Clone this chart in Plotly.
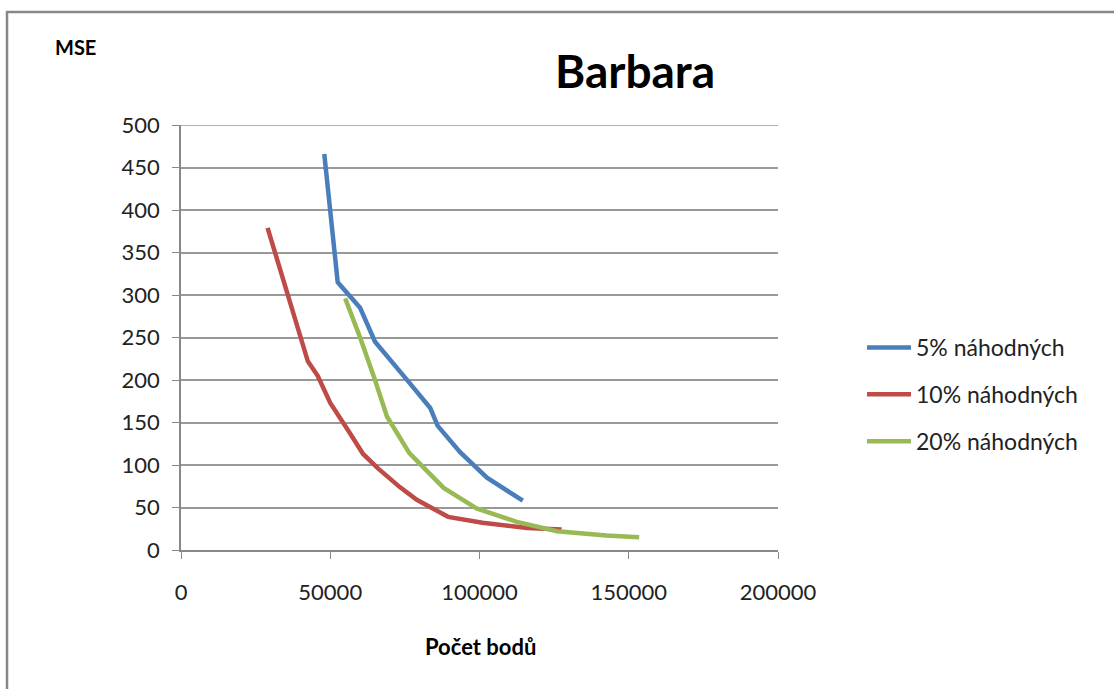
import plotly.graph_objects as go

# Data
x_5 = [48000, 52500, 60000, 65000, 75500, 83500, 86000, 93500, 102500, 114500]
y_5 = [466, 315, 285, 245, 201, 167, 146, 115, 85, 58]

x_10 = [29000, 42500, 45800, 50000, 56500, 61000, 66000, 73300, 79000, 89500, 101000, 116000, 127500]
y_10 = [379, 222, 205, 173, 138, 113, 96, 74, 59, 39, 32, 26, 24]

x_20 = [55000, 60000, 65000, 69000, 76500, 82000, 88000, 99000, 112500, 126000, 142500, 153500]
y_20 = [296, 250, 200, 157, 114, 95, 73, 49, 33, 22, 17, 15]

names = ["5% náhodných", "10% náhodných", "20% náhodných"]
colors = ["#4A7EBB", "#BE4B48", "#98B954"]

x_ticks = [0, 50000, 100000, 150000, 200000]
y_ticks = [0, 50, 100, 150, 200, 250, 300, 350, 400, 450, 500]

FONT = "Lato, 'Open Sans', sans-serif"

fig = go.Figure()
for i, (xs, ys, n, c) in enumerate(zip([x_5, x_10, x_20], [y_5, y_10, y_20], names, colors)):
    fig.add_trace(go.Scatter(x=xs, y=ys, mode="lines", name=n, legendgroup=f"g{i}",
                             line=dict(color=c, width=4.5)))

W, H = 1114, 689
L, R, T, B = 181, 336, 125, 139
pw, ph = W - L - R, H - T - B

fig.update_layout(
    width=W, height=H,
    margin=dict(l=L, r=R, t=T, b=B, pad=0),
    paper_bgcolor="white", plot_bgcolor="white",
    font=dict(family=FONT, size=22, color="#222"),
    showlegend=True,
    legend=dict(x=(862 - L) / pw, y=(550 - 326) / ph, xanchor="left", yanchor="top",
                font=dict(size=23, color="#222"), tracegroupgap=14,
                itemwidth=44, bgcolor="rgba(0,0,0,0)"),
    title=dict(text="<b>Barbara</b>", x=(635) / W, xanchor="center",
               y=1 - 72 / H, yanchor="middle", font=dict(size=46, color="black", family=FONT)),
    xaxis=dict(range=[0, 200000], tickvals=x_ticks, ticktext=[str(v) for v in x_ticks],
               showgrid=False, zeroline=False, showline=True, linecolor="#888", linewidth=1.5,
               ticks="outside", ticklen=7, tickcolor="#888", tickfont=dict(size=22, color="#222"),
               ticklabelstandoff=15),
    yaxis=dict(range=[0, 500], tickvals=y_ticks, showgrid=True, gridcolor="#999", gridwidth=1.5,
               zeroline=False, showline=True, linecolor="#888", linewidth=1.5,
               ticks="outside", ticklen=7, tickcolor="#888", tickfont=dict(size=22, color="#222"),
               ticklabelstandoff=8),
    annotations=[
        dict(text="<b>MSE</b>", xref="paper", yref="paper", x=(75 - L) / pw, y=(550 - 47) / ph,
             xanchor="center", yanchor="middle", showarrow=False, font=dict(size=20, color="black")),
        dict(text="<b>Počet bodů</b>", xref="paper", yref="paper", x=(480 - L) / pw, y=(550 - 646) / ph,
             xanchor="center", yanchor="middle", showarrow=False, font=dict(size=22, color="black")),
    ],
    shapes=[
        dict(type="rect", xref="paper", yref="paper", x0=(7 - L) / pw, x1=(1130 - L) / pw,
             y0=(550 - 720) / ph, y1=(550 - 12) / ph, line=dict(color="#888", width=2.5),
             fillcolor="rgba(0,0,0,0)", layer="below"),
        dict(type="line", xref="paper", yref="y", x0=0, x1=1, y0=y_ticks[-1], y1=y_ticks[-1],
             line=dict(color="#999", width=1.5), layer="below"),
    ],
)

fig.write_html("out.html")
